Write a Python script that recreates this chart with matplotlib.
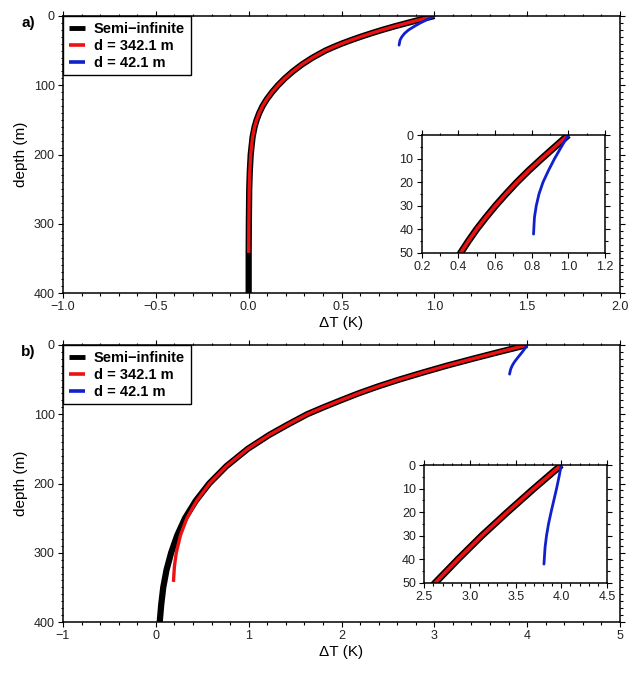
import matplotlib
matplotlib.use("Agg")
import matplotlib.pyplot as plt
from matplotlib.ticker import MultipleLocator, FuncFormatter
from matplotlib.lines import Line2D

plt.rcParams['font.family'] = ['Liberation Sans', 'DejaVu Sans']

# ---------------- data ----------------
# Panel a: step change of 1 K
a_depth = [0, 5, 10, 15, 20, 25, 30, 35, 40, 45, 50, 60, 70, 80, 90, 100, 110, 120, 130, 140, 150,
           160, 175, 200, 225, 250, 300, 342.1, 400]
a_semi = [1.0, 0.927, 0.855, 0.785, 0.72, 0.66, 0.603, 0.55, 0.50, 0.455, 0.413, 0.345, 0.287,
          0.238, 0.195, 0.158, 0.126, 0.098, 0.075, 0.057, 0.043, 0.032, 0.021, 0.011, 0.006, 0.003,
          0.001, 0.0, 0.0]
a_red_depth = [0, 5, 10, 15, 20, 25, 30, 35, 40, 45, 50, 60, 70, 80, 90, 100, 110, 120, 130, 140, 150,
               160, 175, 200, 225, 250, 300, 342.1]
a_red = [1.0, 0.927, 0.855, 0.785, 0.72, 0.66, 0.603, 0.55, 0.50, 0.455, 0.413, 0.345, 0.287,
         0.238, 0.195, 0.158, 0.126, 0.098, 0.075, 0.057, 0.043, 0.032, 0.021, 0.011, 0.006, 0.003,
         0.001, 0.0]
a_blue_depth = [0, 5, 10, 15, 20, 25, 30, 35, 42.1]
a_blue = [1.0, 0.962, 0.925, 0.892, 0.862, 0.840, 0.825, 0.815, 0.81]

# Panel b: linear surface warming of 4 K
b_depth = [0, 5, 10, 15, 20, 25, 30, 35, 40, 45, 50, 60, 70, 80, 90, 100, 115, 130, 150, 175, 200,
           225, 250, 275, 300, 325, 350, 375, 400]
b_semi = [4.0, 3.85, 3.70, 3.555, 3.41, 3.27, 3.13, 3.0, 2.87, 2.745, 2.62, 2.39, 2.18, 1.99, 1.805,
          1.63, 1.42, 1.22, 0.99, 0.76, 0.575, 0.43, 0.315, 0.23, 0.165, 0.115, 0.08, 0.058, 0.042]
b_red_depth = [0, 5, 10, 15, 20, 25, 30, 35, 40, 45, 50, 60, 70, 80, 90, 100, 115, 130, 150, 175, 200,
               225, 250, 275, 300, 320, 342.1]
b_red = [4.0, 3.85, 3.70, 3.555, 3.41, 3.27, 3.13, 3.0, 2.87, 2.745, 2.62, 2.39, 2.18, 1.99, 1.805,
         1.63, 1.42, 1.22, 0.99, 0.76, 0.578, 0.44, 0.335, 0.265, 0.22, 0.20, 0.19]
b_blue_depth = [0, 5, 10, 15, 20, 25, 30, 35, 42.1]
b_blue = [4.0, 3.975, 3.948, 3.918, 3.888, 3.86, 3.838, 3.822, 3.81]

labels = ["Semi\u2212infinite", "d = 342.1 m", "d = 42.1 m"]
panel_tags = ["a)", "b)"]

fig = plt.figure(figsize=(6.33, 6.75), dpi=100)


def fmt_factory(decimals):
    def f(v, p):
        s = f"{v:.{decimals}f}"
        if s.startswith('-') and float(s) == 0:
            s = s[1:]
        return s.replace('-', '\u2212')
    return FuncFormatter(f)


def style(ax, xmaj, xmin, ymaj, ymin, fs=9):
    ax.xaxis.set_major_locator(MultipleLocator(xmaj))
    ax.xaxis.set_minor_locator(MultipleLocator(xmin))
    ax.yaxis.set_major_locator(MultipleLocator(ymaj))
    ax.yaxis.set_minor_locator(MultipleLocator(ymin))
    ax.tick_params(which='both', direction='out', top=True, right=True, labelsize=fs,
                   width=0.8, colors='black', labelcolor='#222222')
    ax.tick_params(which='major', length=3.5, pad=2.5)
    ax.tick_params(which='minor', length=1.8)
    for s in ax.spines.values():
        s.set_linewidth(1.1)


def draw(ax, semi_x, semi_d, red_x, red_d, blue_x, blue_d, lwk, lwr, lwb):
    ax.plot(semi_x, semi_d, color='black', lw=lwk, solid_capstyle='butt', solid_joinstyle='round')
    ax.plot(red_x, red_d, color='#ee1111', lw=lwr, solid_capstyle='butt', solid_joinstyle='round')
    ax.plot(blue_x, blue_d, color='#1020cc', lw=lwb, solid_capstyle='round', solid_joinstyle='round')


configs = [
    dict(pos=[0.0995, 0.5659, 0.8800, 0.4104], xlim=(-1.0, 2.0), xmaj=0.5, xmin=0.1, dec=1,
         inset=[0.6662, 0.6256, 0.2896, 0.1744], ixlim=(0.2, 1.2), ixmaj=0.2, ixmin=0.1,
         data=(a_semi, a_depth, a_red, a_red_depth, a_blue, a_blue_depth)),
    dict(pos=[0.0995, 0.0785, 0.8800, 0.4104], xlim=(-1, 5), xmaj=1, xmin=0.2, dec=0,
         inset=[0.6703, 0.1367, 0.2886, 0.1744], ixlim=(2.5, 4.5), ixmaj=0.5, ixmin=0.1,
         data=(b_semi, b_depth, b_red, b_red_depth, b_blue, b_blue_depth)),
]

for i, c in enumerate(configs):
    ax = fig.add_axes(c['pos'])
    draw(ax, *c['data'], lwk=4.5, lwr=2.4, lwb=2.0)
    ax.set_xlim(*c['xlim'])
    ax.set_ylim(400, 0)
    style(ax, c['xmaj'], c['xmin'], 100, 10, fs=9)
    ax.xaxis.set_major_formatter(fmt_factory(c['dec']))
    ax.set_xlabel("\u0394T (K)", fontsize=11, labelpad=2)
    ax.set_ylabel("depth (m)", fontsize=11, labelpad=4)
    handles = [Line2D([], [], color='black', lw=3.5, solid_capstyle='butt'),
               Line2D([], [], color='#ee1111', lw=2.6, solid_capstyle='butt'),
               Line2D([], [], color='#1020cc', lw=2.6, solid_capstyle='butt')]
    leg = ax.legend(handles, labels, loc='upper left', borderaxespad=0, fancybox=False,
                    framealpha=1, edgecolor='black', handlelength=1.1, handletextpad=0.6,
                    borderpad=0.4, labelspacing=0.2,
                    prop={'weight': 'bold', 'size': 10.5})
    leg.get_frame().set_linewidth(1.0)
    ax.text(-0.05, 0.975, panel_tags[i], transform=ax.transAxes, fontsize=11, fontweight='bold',
            ha='right', va='center')

    ia = fig.add_axes(c['inset'])
    draw(ia, *c['data'], lwk=5.0, lwr=2.6, lwb=2.0)
    ia.set_xlim(*c['ixlim'])
    ia.set_ylim(50, 0)
    style(ia, c['ixmaj'], c['ixmin'], 10, 5, fs=9)
    ia.xaxis.set_major_formatter(fmt_factory(1))

fig.savefig("out.png", dpi=100)
